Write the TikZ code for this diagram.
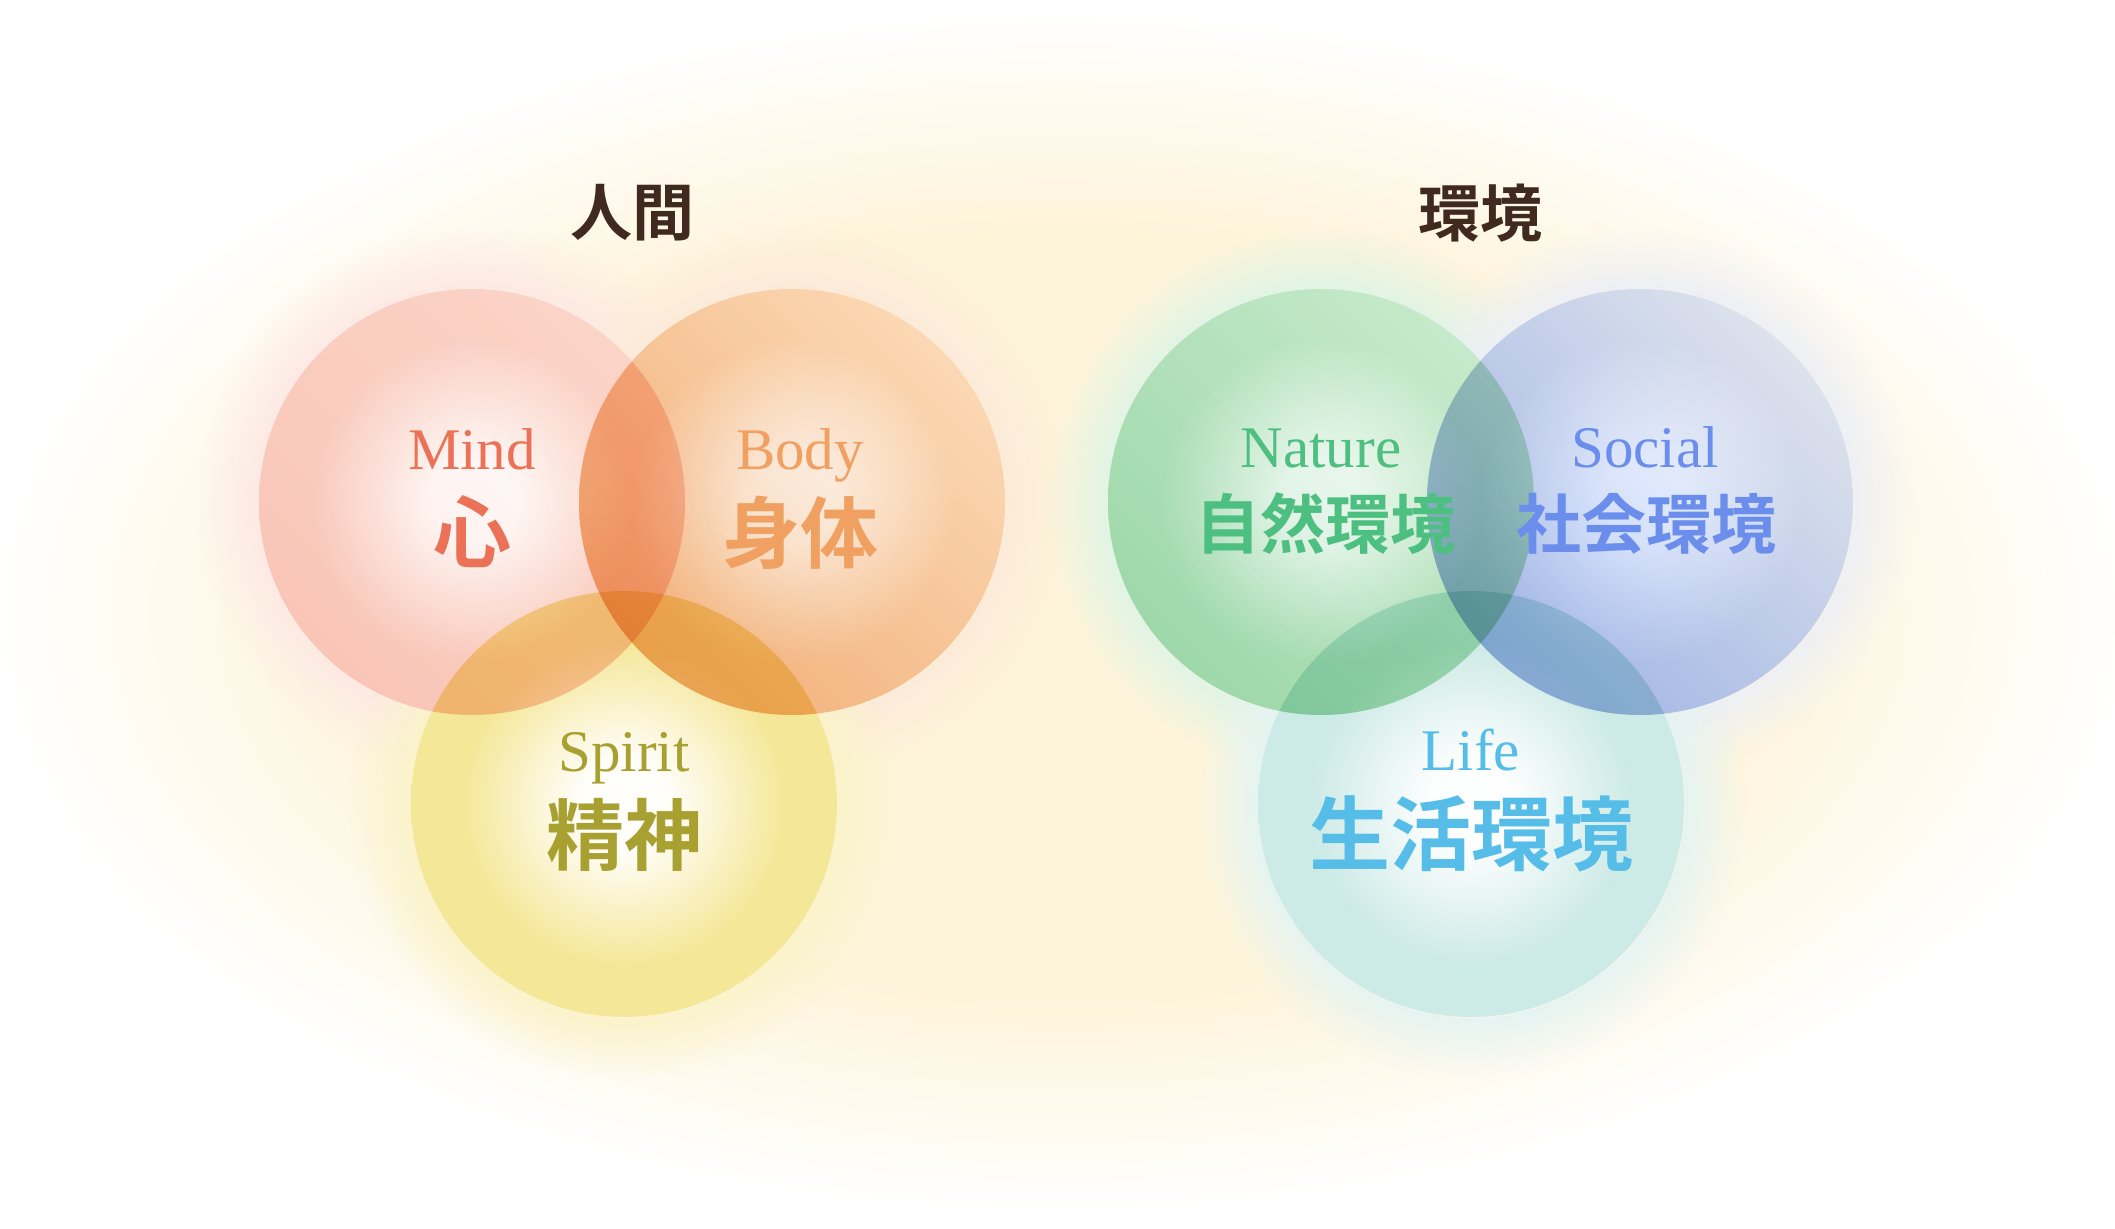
\documentclass[tikz,border=0pt]{standalone}
\usepackage{fontspec}
\setmainfont{Liberation Serif}
\newfontfamily\jpfont{Noto Sans CJK JP}[BoldFont=* Bold]
\usepackage{tikz}
\usetikzlibrary{calc,positioning,fadings,shadings}

\definecolor{bgcream}{HTML}{FEF4DA}
\definecolor{titlec}{HTML}{40291F}
% circle colours
\definecolor{mindc}{HTML}{FBD4C8}
\definecolor{bodyc}{HTML}{FBD8B4}
\definecolor{spiritc}{HTML}{F5E798}
\definecolor{naturec}{HTML}{C6EACB}
\definecolor{socialc}{HTML}{DDE2EC}
\definecolor{lifec}{HTML}{CCEAE6}
% shade towards the lower right
\definecolor{mindk}{HTML}{FDEEEA}
\definecolor{bodyk}{HTML}{F6D0AC}
\definecolor{naturek}{HTML}{CCECD6}
\definecolor{socialk}{HTML}{B8CCF8}
% text colours
\definecolor{mindt}{HTML}{EC7257}
\definecolor{bodyt}{HTML}{F0A060}
\definecolor{spiritt}{HTML}{A8A030}
\definecolor{naturet}{HTML}{4DBF80}
\definecolor{socialt}{HTML}{6B8DEB}
\definecolor{lifet}{HTML}{55BDE8}

\colorlet{diskcore}{white}
\colorlet{diskedge}{gray}
% shadings are fitted so that the path edge sits at 25bp
\pgfdeclareradialshading[diskcore,diskedge]{venndisk}{\pgfpointorigin}{%
	color(0bp)=(diskcore); color(5bp)=(diskcore); color(19bp)=(diskedge); color(50bp)=(diskedge)}
\pgfdeclareradialshading{backglow}{\pgfpointorigin}{%
	color(0bp)=(bgcream); color(16bp)=(bgcream); color(25bp)=(white); color(50bp)=(white)}
\pgfdeclareradialshading{halomask}{\pgfpointorigin}{%
	color(0bp)=(black); color(19.2bp)=(black); color(19.4bp)=(white); color(25bp)=(black); color(50bp)=(black)}
\pgfdeclarefading{halofade}{\pgfuseshading{halomask}}

\tikzset{
	disk/.style={circle, inner sep=0pt, outer sep=0pt, minimum size=213pt,
		/utils/exec={\colorlet{diskcore}{#1!4}\colorlet{diskedge}{#1}},
		shade, shading=venndisk, blend mode=multiply},
	halo/.style={fill=#1!50, path fading=halofade},
	tint/.style={blend mode=multiply, left color=white, right color=#1, shading angle=-45},
	en label/.style={font=\fontsize{29.5}{32}\selectfont, inner sep=0pt, anchor=base, text=#1},
	jp label/.style={font=\jpfont\bfseries\fontsize{39}{42}\selectfont, inner sep=0pt, text=#1},
	jp small/.style={font=\jpfont\bfseries\fontsize{32.5}{34}\selectfont, inner sep=0pt, text=#1},
	title/.style={font=\jpfont\bfseries\fontsize{31}{34}\selectfont, inner sep=0pt, text=titlec}
}

\begin{document}
\begin{tikzpicture}[x=.5pt, y=-.5pt]
	\useasboundingbox (0,0) rectangle (2115,1229);
	% cream glow behind everything
	\shade[shading=backglow] (1062,612) ellipse [x radius=1070, y radius=600];
	% soft halos round the circles, then a white ground under them
	\foreach \col/\x/\y in {mindc/472/502, bodyc/792/502, spiritc/624/804,
			naturec/1321/502, socialc/1640/502, lifec/1471/804}
		\fill[halo=\col] (\x,\y) circle [radius=275];
	\foreach \x/\y in {472/502, 792/502, 624/804, 1321/502, 1640/502, 1471/804}
		\fill[white] (\x,\y) circle [radius=213];
	% the six circles
	\node[disk=mindc] (mind) at (472,502) {};
	\node[disk=bodyc] (body) at (792,502) {};
	\node[disk=spiritc] (spirit) at (624,804) {};
	\node[disk=naturec] (nature) at (1321,502) {};
	\node[disk=socialc] (social) at (1640,502) {};
	\node[disk=lifec] (life) at (1471,804) {};
	\foreach \c/\col in {mind/mindk, body/bodyk, nature/naturek, social/socialk}
		\shade[tint=\col] (\c.center) circle [radius=213];
	% titles
	\node[title] (human) at ($(mind)!.5!(body)+(0,-289)$) {人間};
	\node[title] (env) at ($(nature)!.5!(social)+(0,-289)$) {環境};
	% labels
	\node[en label=mindt] (mind-en) at ([yshift=16pt]mind.center) {Mind};
	\node[jp label=mindt] (mind-jp) at ([yshift=-15pt]mind.center) {心};
	\node[en label=bodyt] (body-en) at ([xshift=4pt,yshift=16pt]body.center) {Body};
	\node[jp label=bodyt] (body-jp) at ([xshift=4pt,yshift=-15.5pt]body.center) {身体};
	\node[en label=spiritt] (spirit-en) at ([yshift=16.5pt]spirit.center) {Spirit};
	\node[jp label=spiritt] (spirit-jp) at ([yshift=-15.5pt]spirit.center) {精神};
	\node[en label=naturet] (nature-en) at ([yshift=17pt]nature.center) {Nature};
	\node[jp small=naturet] (nature-jp) at ([xshift=2pt,yshift=-11pt]nature.center) {自然環境};
	\node[en label=socialt] (social-en) at ([xshift=2.5pt,yshift=17pt]social.center) {Social};
	\node[jp small=socialt] (social-jp) at ([xshift=3pt,yshift=-11pt]social.center) {社会環境};
	\node[en label=lifet] (life-en) at ([yshift=17pt]life.center) {Life};
	\node[jp label=lifet, font=\jpfont\bfseries\fontsize{40.5}{42}\selectfont] (life-jp) at ([yshift=-15pt]life.center) {生活環境};
\end{tikzpicture}
\end{document}
